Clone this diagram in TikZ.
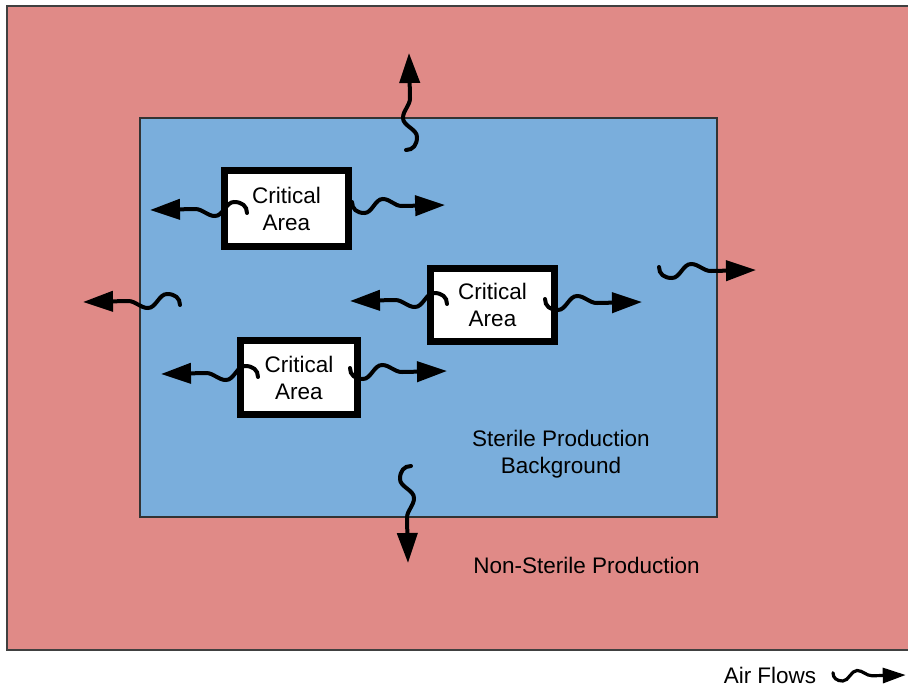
\documentclass[tikz,border=0pt]{standalone}
\usepackage{fontspec}
\setmainfont{Liberation Sans}
\usetikzlibrary{arrows.meta}
\definecolor{nonsterile}{RGB}{224,138,135}
\definecolor{sterile}{RGB}{122,174,220}
\tikzset{
  flow/.style={line width=4pt, line cap=round, -{Triangle[length=30pt,width=20pt]}},
  critbox/.style={draw=black, line width=7pt, fill=white, align=center,
    font=\fontsize{22.5}{27}\selectfont, inner sep=0pt},
  areatext/.style={align=center, font=\fontsize{22.5}{27}\selectfont, inner sep=0pt},
  pics/airflow/.style={code={
    \draw[flow,#1] (0,-3) .. controls (0,4) and (5,8) .. (13,8)
      .. controls (21,8) and (24,-6) .. (32,-6)
      .. controls (40,-6) and (44,1) .. (52,1) -- (97,0);
  }},
  pics/airflow/.default={}
}
\begin{document}
\begin{tikzpicture}[x=1pt,y=-1pt]
\useasboundingbox (0,0) rectangle (908,686);

% production zones
\draw[fill=nonsterile, draw=black!75, line width=2.5pt] (7,6) rectangle (930,650);
\draw[fill=sterile, draw=black!80, line width=1.5pt] (140,118) rectangle (717,517);

% critical areas
\node[critbox, minimum width=124pt, minimum height=76pt] (crit1) at (286.5,208.5) {Critical\\Area};
\node[critbox, minimum width=124pt, minimum height=73pt] (crit2) at (492.5,305) {Critical\\Area};
\node[critbox, minimum width=117pt, minimum height=74pt] (crit3) at (299,377.5) {Critical\\Area};

% zone labels
\node[areatext] (sterile) at (561,454.5) {Sterile Production\\Background};
\node[areatext] (nonsterile) at (586.5,565) {Non-Sterile Production};
\node[areatext] (legend) at (770,675) {Air Flows};

% air flow start points
\coordinate (f1) at (247,210);
\coordinate (f2) at (352,205);
\coordinate (f3) at (409,150);
\coordinate (f4) at (180,302);
\coordinate (f5) at (447,301);
\coordinate (f6) at (545,302);
\coordinate (f7) at (659,270);
\coordinate (f8) at (258,374);
\coordinate (f9) at (350,371);
\coordinate (f10) at (408,466);
\coordinate (f11) at (833,675);

% air flows out of the critical areas
\pic[rotate=180] at (f1) {airflow};
\pic[xscale=0.96] at (f2) {airflow};
\pic[rotate=180] at (f5) {airflow};
\pic at (f6) {airflow};
\pic[rotate=180] at (f8) {airflow};
\pic at (f9) {airflow};

% air flows out of the sterile background
\pic[rotate=90] at (f3) {airflow};
\pic[rotate=180] at (f4) {airflow};
\pic at (f7) {airflow};
\pic[rotate=-90] at (f10) {airflow};

% legend symbol
\pic[scale=0.75] at (f11) {airflow={line width=3.2pt,-{Triangle[length=23pt,width=15pt]}}};
\end{tikzpicture}
\end{document}
